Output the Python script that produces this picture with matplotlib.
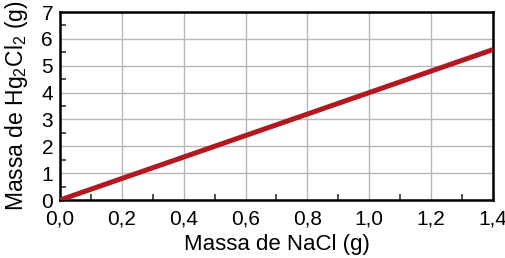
import matplotlib
matplotlib.use("Agg")
import matplotlib.pyplot as plt
from matplotlib.ticker import MultipleLocator, FuncFormatter

massa_nacl = [0.0, 1.4]
massa_hg2cl2 = [0.0, 5.6]

plt.rcParams['font.family'] = ['Liberation Sans', 'DejaVu Sans']
plt.rcParams['mathtext.fontset'] = 'custom'
plt.rcParams['mathtext.rm'] = 'Liberation Sans'

fig = plt.figure(figsize=(5.06, 2.58), dpi=100)
ax = fig.add_axes([60 / 506, 58 / 258, 433 / 506, 188 / 258])

ax.plot(massa_nacl, massa_hg2cl2, color="#b3171f", linewidth=3.6, solid_capstyle="butt", zorder=3)

ax.set_xlim(0, 1.4)
ax.set_ylim(0, 7)
ax.xaxis.set_major_locator(MultipleLocator(0.2))
ax.xaxis.set_minor_locator(MultipleLocator(0.1))
ax.yaxis.set_major_locator(MultipleLocator(1))
ax.yaxis.set_minor_locator(MultipleLocator(0.5))
ax.xaxis.set_major_formatter(FuncFormatter(lambda v, p: f"{v:.1f}".replace(".", ",")))

ax.grid(True, which="major", color="#b8b8b8", linewidth=1.0)
ax.tick_params(which="both", direction="in", labelsize=15, width=1.2, color="#333333")
ax.tick_params(axis="x", which="major", length=0, pad=7)
ax.tick_params(axis="y", which="major", length=0, pad=5)
ax.tick_params(which="minor", length=4)
for s in ax.spines.values():
    s.set_linewidth(1.8)

ax.set_xlabel("Massa de NaCl (g)", fontsize=16, labelpad=4)
ax.set_ylabel("Massa de Hg$_\\mathrm{2}$Cl$_\\mathrm{2}$ (g)", fontsize=16.5, labelpad=8)

fig.savefig("out.png", dpi=100)
